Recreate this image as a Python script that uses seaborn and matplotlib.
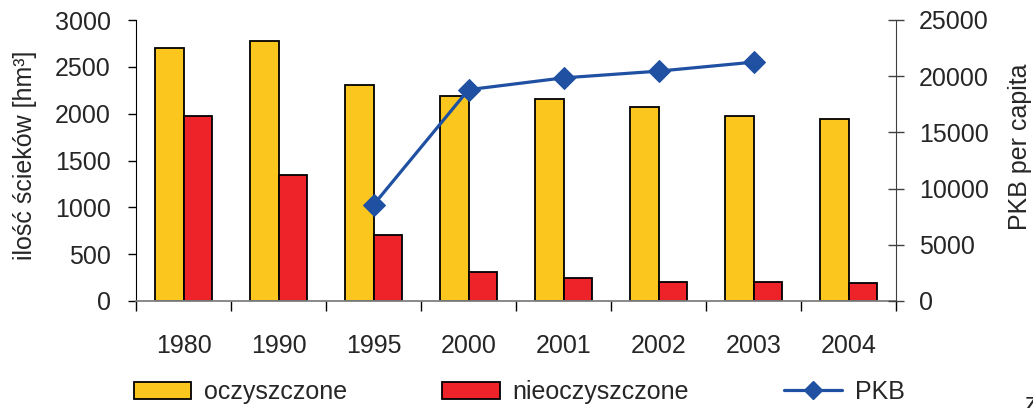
import pandas as pd
import matplotlib
matplotlib.use('Agg')
import matplotlib.pyplot as plt
import seaborn as sns
from matplotlib.patches import Patch
from matplotlib.lines import Line2D

# dane
years = ['1980', '1990', '1995', '2000', '2001', '2002', '2003', '2004']
oczyszczone = [2700, 2780, 2310, 2190, 2160, 2070, 1970, 1940]
nieoczyszczone = [1970, 1340, 705, 310, 245, 205, 205, 190]
pkb_years = ['1995', '2000', '2001', '2002', '2003']
pkb = [8550, 18800, 19850, 20450, 21250]

sns.set_style('white')
plt.rcParams['font.family'] = ['Liberation Sans', 'DejaVu Sans']
plt.rcParams['font.size'] = 18

yellow = '#FBC71E'
red = '#EE2229'
blue = '#1F50A2'

df = pd.DataFrame({
    'rok': years * 2,
    'ilosc': oczyszczone + nieoczyszczone,
    'typ': ['oczyszczone'] * len(years) + ['nieoczyszczone'] * len(years),
})

fig = plt.figure(figsize=(10.33, 4.08), dpi=100)
ax = fig.add_axes([136 / 1033, 107 / 408, 760 / 1033, 281 / 408])
sns.barplot(data=df, x='rok', y='ilosc', hue='typ', palette=[yellow, red],
            width=0.6, saturation=1, edgecolor='black', linewidth=1.3,
            legend=False, ax=ax)
ax.set_xlim(-0.5, len(years) - 0.5)
ax.set_ylim(0, 3000)
ax.set_yticks(range(0, 3001, 500))
ax.set_xlabel('')
ax.set_ylabel('ilość ścieków [hm³]', fontsize=18)
ax.yaxis.set_label_coords(-0.146, 0.52)
ax.yaxis.label.set_verticalalignment('center')

for s in ['top', 'right']:
    ax.spines[s].set_visible(False)
ax.spines['left'].set_color('black')
ax.spines['bottom'].set_color('#808080')
ax.spines['bottom'].set_linewidth(1.3)

ax.tick_params(axis='y', direction='out', length=6, width=1, color='black',
               pad=12, labelsize=18, left=True)
ax.tick_params(axis='x', which='major', length=0, pad=24, labelsize=18)
ax.set_xticks([i - 0.5 for i in range(len(years) + 1)], minor=True)
ax.tick_params(axis='x', which='minor', direction='out', length=7, width=1,
               color='black', bottom=True)

# PKB na drugiej osi
ax2 = ax.twinx()
pkb_x = [years.index(y) for y in pkb_years]
sns.lineplot(x=pkb_x, y=pkb, color=blue, linewidth=2.3, marker='D',
             markersize=11, markeredgecolor=blue, ax=ax2)
ax2.set_ylim(0, 25000)
ax2.set_yticks(range(0, 25001, 5000))
for s in ['top', 'left', 'bottom']:
    ax2.spines[s].set_visible(False)
ax2.spines['right'].set_color('#404040')
ax2.tick_params(axis='y', direction='inout', length=11, width=1, color='#404040',
                pad=11, labelsize=18, right=True)
ax2.set_ylabel('PKB per capita', fontsize=18)
ax2.yaxis.set_label_coords(1.163, 0.55)
ax2.yaxis.label.set_verticalalignment('center')

handles = [
    Patch(facecolor=yellow, edgecolor='black', linewidth=1.3),
    Patch(facecolor=red, edgecolor='black', linewidth=1.3),
    Line2D([], [], color=blue, linewidth=2.3, marker='D', markersize=9),
]
fig.legend(handles, ['oczyszczone', 'nieoczyszczone', 'PKB'], loc='center left',
           bbox_to_anchor=(111 / 1033, 16 / 408), ncol=3, frameon=False,
           fontsize=18, handlelength=2.3, handleheight=0.7, handletextpad=0.52,
           columnspacing=3.8)

# ucięty napis w prawym dolnym rogu
fig.text(1025 / 1033, -3 / 408, 'z', fontsize=18, ha='left', va='baseline')

fig.savefig('out.png', dpi=100)
